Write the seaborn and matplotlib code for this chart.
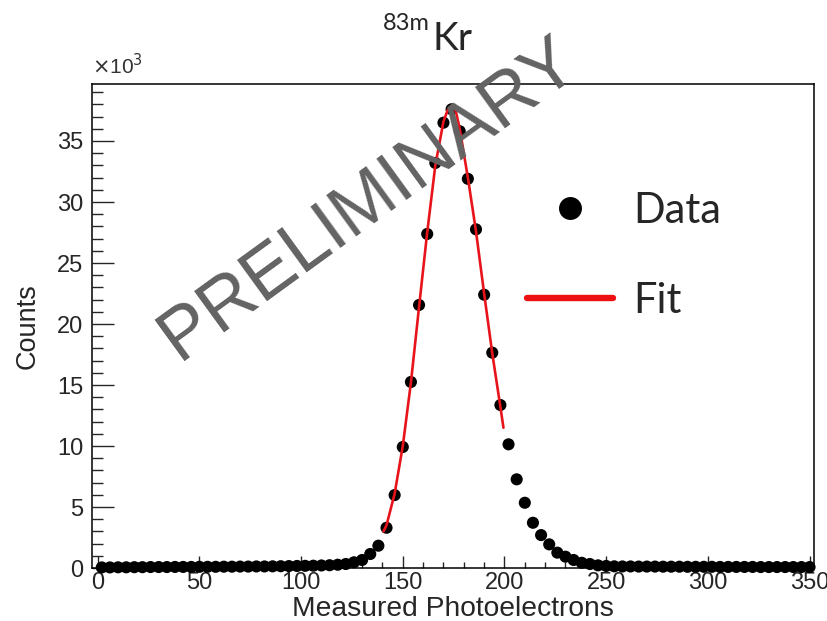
import numpy as np
import pandas as pd
import matplotlib
matplotlib.use("Agg")
import matplotlib.pyplot as plt
from matplotlib.lines import Line2D
from matplotlib.ticker import MultipleLocator
import seaborn as sns

# ---- data (counts in units of 10^3) ----
pe_bins = list(range(2, 351, 4))
counts_k = [
    0.05, 0.05, 0.06, 0.06, 0.07, 0.07, 0.08, 0.08, 0.08, 0.09,
    0.09, 0.09, 0.10, 0.10, 0.10, 0.11, 0.11, 0.12, 0.12, 0.13,
    0.13, 0.14, 0.15, 0.16, 0.17, 0.18, 0.19, 0.21, 0.23, 0.27,
    0.33, 0.47, 0.66, 1.15, 1.83, 3.30, 5.98, 9.92, 15.25, 21.56,
    27.38, 33.2, 36.5, 37.6, 35.8, 31.9, 27.76, 22.4, 17.65, 13.36,
    10.14, 7.27, 5.35, 3.71, 2.70, 1.94, 1.26, 0.93, 0.66, 0.43,
    0.33, 0.22, 0.17, 0.14, 0.13, 0.13, 0.12, 0.12, 0.12, 0.11,
    0.11, 0.11, 0.10, 0.10, 0.10, 0.10, 0.09, 0.09, 0.09, 0.09,
    0.09, 0.08, 0.08, 0.08, 0.08, 0.08, 0.08, 0.08,
]
fit_x = [140.5, 142, 146, 150, 154, 158, 162, 166, 170, 172, 174, 176, 178,
         182, 186, 190, 194, 198, 199.5]
fit_y = [3.0, 3.5, 6.1, 10.0, 15.2, 21.4, 27.5, 33.0, 36.6, 37.5, 37.9, 37.5, 36.0,
         32.0, 27.6, 22.5, 17.6, 13.2, 11.5]
x_ticks = [0, 50, 100, 150, 200, 250, 300, 350]
y_ticks = [0, 5, 10, 15, 20, 25, 30, 35]

data_df = pd.DataFrame({"pe": pe_bins, "counts": counts_k})
fit_df = pd.DataFrame({"pe": fit_x, "counts": fit_y})

sns.set_style("white")
plt.rcParams["font.family"] = ["Liberation Sans", "DejaVu Sans"]

fig = plt.figure(figsize=(8.27, 6.21), dpi=100)
ax = fig.add_axes([0.1109, 0.0853, 0.8734, 0.7794])

sns.scatterplot(data=data_df, x="pe", y="counts", ax=ax, color="black",
                s=76, edgecolor="none", clip_on=False, zorder=3)
sns.lineplot(data=fit_df, x="pe", y="counts", ax=ax, color="#e8141c",
             linewidth=1.9, zorder=4)

ax.set_xlim(-2.95, 352.2)
ax.set_ylim(0, 39.67)
ax.set_xticks(x_ticks)
ax.set_yticks(y_ticks)
ax.xaxis.set_minor_locator(MultipleLocator(10))
ax.yaxis.set_minor_locator(MultipleLocator(1))
ax.tick_params(axis="x", which="major", direction="in", length=8.5, width=1,
               labelsize=17, pad=3, top=False, bottom=True)
ax.tick_params(axis="x", which="minor", direction="in", length=4.5, width=1,
               top=False, bottom=True)
ax.tick_params(axis="y", which="major", direction="in", length=15.5, width=1,
               labelsize=17, pad=6, right=False, left=True)
ax.tick_params(axis="y", which="minor", direction="in", length=8, width=1,
               right=False, left=True)
for sp in ax.spines.values():
    sp.set_visible(True)
    sp.set_color("black")
    sp.set_linewidth(1.1)

ax.set_xlabel("Measured Photoelectrons", fontsize=20.3, labelpad=1)
ax.set_ylabel("Counts", fontsize=19.5, labelpad=12)

# x10^3 multiplier
ax.text(0.0, 1.012, r"$\times$10$^{3}$", transform=ax.transAxes,
        fontsize=15, ha="left", va="bottom", color="#333333")

# title 83mKr
fig.text(0.5225, 0.9195, "Kr", fontsize=28, family=["Lato", "DejaVu Sans"],
         ha="left", va="baseline")
fig.text(0.5200, 0.9520, "83m", fontsize=17, family=["Lato", "DejaVu Sans"],
         ha="right", va="baseline")

# legend
handles = [
    Line2D([], [], linestyle="none", marker="o", markersize=15.5,
           markerfacecolor="black", markeredgecolor="black"),
    Line2D([], [], color="#ee1111", linewidth=4.6),
]
leg = ax.legend(handles, ["Data", "Fit"], loc="upper left",
                bbox_to_anchor=(0.58, 0.812), frameon=False,
                prop={"family": ["Lato", "DejaVu Sans"], "size": 30},
                handlelength=2.05, handletextpad=0.5, labelspacing=1.25,
                borderaxespad=0)

# watermark
fig.text(369 / 827, 1 - 199 / 621, "PRELIMINARY", fontsize=53, color="#636363",
         rotation=36, ha="center", va="center", rotation_mode="anchor", zorder=10)

fig.savefig("out.png", dpi=100)
